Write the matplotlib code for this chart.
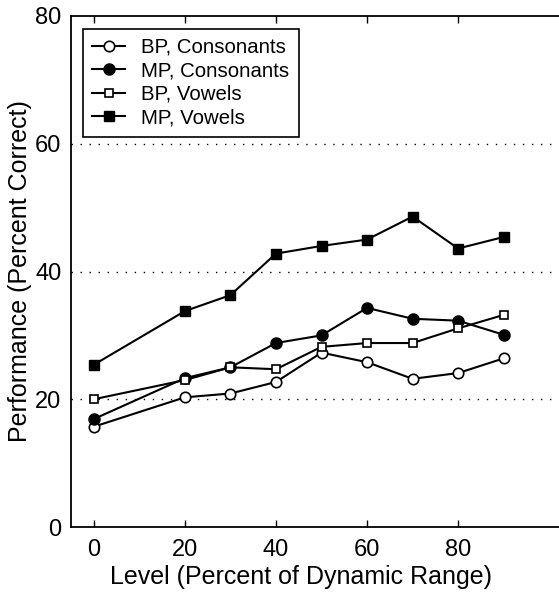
import numpy as np
import matplotlib
matplotlib.use("Agg")
import matplotlib.pyplot as plt

plt.rcParams['font.family'] = ['Liberation Sans', 'DejaVu Sans']

level = [0, 20, 30, 40, 50, 60, 70, 80, 90]
bp_cons = [15.7, 20.3, 20.9, 22.7, 27.3, 25.8, 23.2, 24.1, 26.4]
mp_cons = [16.9, 23.3, 25.0, 28.8, 30.0, 34.3, 32.6, 32.3, 30.1]
bp_vow = [20.0, 23.0, 25.0, 24.7, 28.2, 28.8, 28.8, 31.1, 33.2]
mp_vow = [25.4, 33.8, 36.3, 42.8, 44.0, 45.0, 48.6, 43.6, 45.4]

W, H = 559, 595
fig = plt.figure(figsize=(W / 100, H / 100), dpi=100)
# right side of the box is cut off in the original
ax = fig.add_axes([71 / W, 68 / H, 501 / W, 511 / H])

ax.plot(level, bp_cons, '-o', color='k', mfc='white', mec='k', ms=7.5, lw=1.5,
        mew=1.2, label='BP, Consonants')
ax.plot(level, mp_cons, '-o', color='k', mfc='k', ms=8, lw=1.5, label='MP, Consonants')
ax.plot(level, bp_vow, '-s', color='k', mfc='white', mec='k', ms=5.5, lw=1.5,
        mew=1.2, label='BP, Vowels')
ax.plot(level, mp_vow, '-s', color='k', mfc='k', ms=7, lw=1.5, label='MP, Vowels')

for g in [20, 40, 60]:
    ax.axhline(g, color='k', lw=1.0, ls=(0, (1, 5.5)), zorder=0)

ax.set_xlim(-5, 105)
ax.set_ylim(0, 80)
ax.set_xticks([0, 20, 40, 60, 80])
ax.set_yticks([0, 20, 40, 60, 80])
ax.tick_params(axis='both', direction='in', labelsize=17, width=1, top=True)
ax.tick_params(axis='x', length=5, pad=9)
ax.tick_params(axis='y', length=0, pad=7)
ax.spines['right'].set_visible(False)
for s in ax.spines.values():
    s.set_linewidth(1.3)

ax.set_xlabel('Level (Percent of Dynamic Range)', fontsize=18)
ax.set_ylabel('Performance (Percent Correct)', fontsize=18)
ax.xaxis.set_label_coords(0.459, -0.075)
ax.yaxis.set_label_coords(-0.078, 0.5)

leg = ax.legend(loc='upper left', bbox_to_anchor=(0.024, 0.975), fontsize=14.7,
                fancybox=False, framealpha=1, edgecolor='k', handlelength=1.6,
                handletextpad=0.8, borderpad=0.45, labelspacing=0.22, borderaxespad=0)
leg.get_frame().set_linewidth(1.2)

fig.savefig('out.png', dpi=100)
